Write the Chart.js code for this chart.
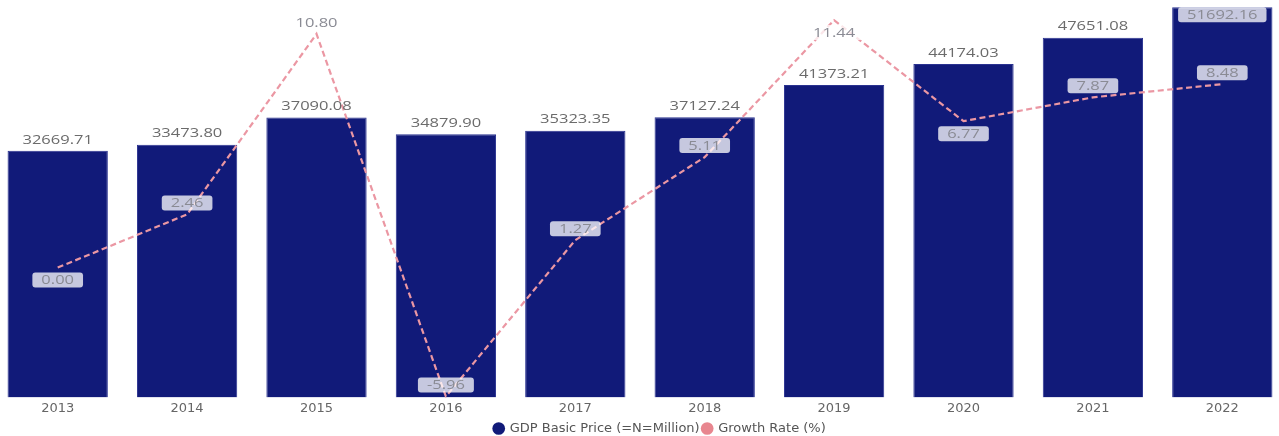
<!DOCTYPE html>
<html>
<head>
<meta charset="utf-8">
<script src="https://cdn.jsdelivr.net/npm/chart.js@4.4.1/dist/chart.umd.min.js"></script>
<style>
  html, body { margin: 0; padding: 0; background: #fff; overflow: hidden; }
  #wrap { position: absolute; left: -7px; top: 0; width: 1294px; height: 446px; }
</style>
</head>
<body>
<div id="wrap"><canvas id="gdpChart"></canvas></div>
<script>
const years = ['2013', '2014', '2015', '2016', '2017', '2018', '2019', '2020', '2021', '2022'];
const gdpBasic = [32669.71, 33473.80, 37090.08, 34879.90, 35323.35, 37127.24, 41373.21, 44174.03, 47651.08, 51692.16];
const growthRate = [0.00, 2.46, 10.80, -5.96, 1.27, 5.11, 11.44, 6.77, 7.87, 8.48];

// which side of the point each growth label sits on
const growthLabelSide = ['below', 'above', 'above', 'above', 'above', 'above', 'below', 'below', 'above', 'above'];

const navy = '#111a79';
const pink = '#eb97a3';
const labelFont = '13px "Open Sans", "DejaVu Sans", sans-serif';
const axisFont = '"DejaVu Sans", sans-serif';
const stretch = 1.27; // labels are drawn a bit wide

function roundRect(ctx, x, y, w, h, r) {
  ctx.beginPath();
  ctx.moveTo(x + r, y);
  ctx.lineTo(x + w - r, y);
  ctx.quadraticCurveTo(x + w, y, x + w, y + r);
  ctx.lineTo(x + w, y + h - r);
  ctx.quadraticCurveTo(x + w, y + h, x + w - r, y + h);
  ctx.lineTo(x + r, y + h);
  ctx.quadraticCurveTo(x, y + h, x, y + h - r);
  ctx.lineTo(x, y + r);
  ctx.quadraticCurveTo(x, y, x + r, y);
  ctx.closePath();
}

function wideText(ctx, text, x, y) {
  ctx.save();
  ctx.translate(x, y);
  ctx.scale(stretch, 1);
  ctx.fillText(text, 0, 0);
  ctx.restore();
}

function boxedText(ctx, text, x, y) {
  const w = ctx.measureText(text).width * stretch + 18;
  ctx.fillStyle = 'rgba(255, 255, 255, 0.76)';
  roundRect(ctx, x - w / 2, y - 7, w, 15, 3);
  ctx.fill();
  ctx.fillStyle = '#8a8b94';
  wideText(ctx, text, x, y + 1);
}

const valueLabels = {
  id: 'valueLabels',
  afterDatasetsDraw(chart) {
    const { ctx } = chart;
    ctx.save();
    ctx.font = labelFont;
    ctx.textAlign = 'center';
    ctx.textBaseline = 'middle';

    chart.getDatasetMeta(1).data.forEach((bar, i) => {
      const text = gdpBasic[i].toFixed(2);
      if (bar.y - 11 < 10) {
        boxedText(ctx, text, bar.x, bar.y + 7);
      } else {
        ctx.fillStyle = '#6b6b6b';
        wideText(ctx, text, bar.x, bar.y - 11);
      }
    });

    chart.getDatasetMeta(0).data.forEach((pt, i) => {
      const text = growthRate[i].toFixed(2);
      const y = growthLabelSide[i] === 'below' ? pt.y + 12 : pt.y - 12;
      boxedText(ctx, text, pt.x, y);
    });
    ctx.restore();
  },
  afterLayout(chart) {
    // nudge the legend a little to the right
    chart.legend.left += 20;
    chart.legend.right += 20;
  }
};

new Chart(document.getElementById('gdpChart'), {
  data: {
    labels: years,
    datasets: [
      {
        type: 'line',
        label: 'Growth Rate (%)',
        data: growthRate,
        yAxisID: 'yRate',
        borderColor: pink,
        backgroundColor: '#e8868f',
        borderWidth: 2.2,
        borderDash: [6, 3.5],
        pointRadius: 0,
        tension: 0,
        fill: false
      },
      {
        type: 'bar',
        label: 'GDP Basic Price (=N=Million)',
        data: gdpBasic,
        yAxisID: 'yGdp',
        backgroundColor: navy,
        borderColor: '#2a3290',
        borderWidth: 1,
        categoryPercentage: 1,
        barPercentage: 0.775
      }
    ]
  },
  options: {
    responsive: true,
    maintainAspectRatio: false,
    animation: false,
    layout: { padding: { top: 0, left: 0, right: 0, bottom: 1 } },
    scales: {
      x: {
        grid: { display: false, drawTicks: false },
        border: { display: false },
        ticks: {
          color: '#666',
          padding: 3,
          font: { family: axisFont, size: 13 }
        }
      },
      yGdp: { display: false, min: 0, max: 52650 },
      yRate: { display: false, min: -6.0, max: 12.37, position: 'right' }
    },
    plugins: {
      tooltip: { enabled: false },
      legend: {
        position: 'bottom',
        labels: {
          usePointStyle: true,
          pointStyle: 'circle',
          boxWidth: 9,
          boxHeight: 9,
          padding: 3,
          color: '#555',
          font: { family: axisFont, size: 13 },
          sort: (a, b) => b.datasetIndex - a.datasetIndex,
          generateLabels(chart) {
            return Chart.defaults.plugins.legend.labels.generateLabels(chart).map(item => ({
              ...item,
              lineWidth: 0,
              lineDash: [],
              strokeStyle: item.fillStyle
            }));
          }
        }
      }
    }
  },
  plugins: [valueLabels]
});
</script>
</body>
</html>
